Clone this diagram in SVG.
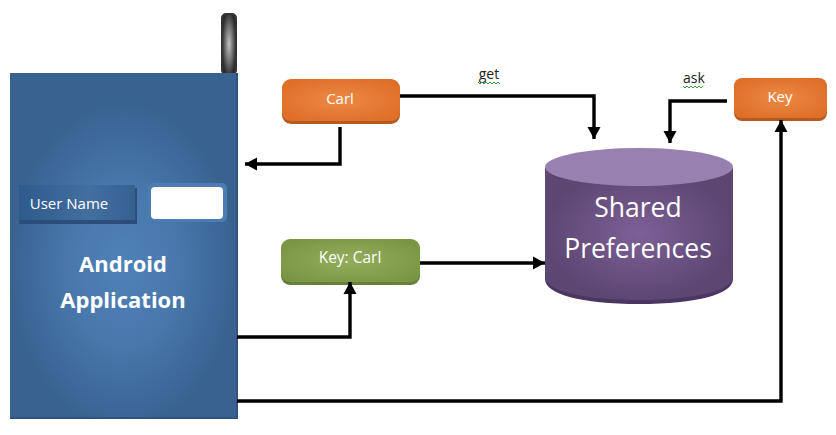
<svg xmlns="http://www.w3.org/2000/svg" width="836" height="435" viewBox="0 0 836 435">
<style>
text{font-family:"Open Sans","Noto Sans","Liberation Sans",sans-serif}
.w{fill:#fff;text-anchor:middle}
.k{fill:#222;text-anchor:middle;font-size:14px}
.c{fill:none;stroke:#000;stroke-width:3.4}
.sq{fill:none;stroke:#3a9a3a;stroke-width:1}
</style>
<defs>
<radialGradient id="blue" cx="0.5" cy="0.56" r="0.5" gradientTransform="translate(0.5 0.56) scale(1 0.95) translate(-0.5 -0.56)"><stop offset="0" stop-color="#4f81b8"/><stop offset="0.5" stop-color="#4877ab"/><stop offset="1" stop-color="#396290"/></radialGradient>
<radialGradient id="org" cx="0.5" cy="0.5" r="0.6"><stop offset="0" stop-color="#ec8a44"/><stop offset="1" stop-color="#de6e28"/></radialGradient>
<radialGradient id="grn" cx="0.5" cy="0.5" r="0.6"><stop offset="0" stop-color="#93ad5c"/><stop offset="1" stop-color="#7a9644"/></radialGradient>
<radialGradient id="pur" cx="0.5" cy="0.5" r="0.5"><stop offset="0" stop-color="#7e6098"/><stop offset="1" stop-color="#5c4672"/></radialGradient>
<radialGradient id="ant" cx="0.5" cy="0.5" r="0.5" gradientTransform="translate(0.5 0.5) scale(1 1.1) translate(-0.5 -0.5)"><stop offset="0" stop-color="#c0c0c0"/><stop offset="0.55" stop-color="#707070"/><stop offset="1" stop-color="#2c2c2c"/></radialGradient>
<linearGradient id="lbl" x1="0" x2="1" y1="0" y2="0"><stop offset="0" stop-color="#2f5a8c"/><stop offset="0.6" stop-color="#436f9f"/><stop offset="1" stop-color="#36608f"/></linearGradient>
<marker id="ah" markerUnits="userSpaceOnUse" markerWidth="14" markerHeight="14" refX="12" refY="7" orient="auto"><path d="M0 0.5L12 7L0 13.5z" fill="#000"/></marker>
</defs>
<rect width="836" height="435" fill="#fff"/>
<g id="antenna"><rect x="222" y="14" width="14" height="60" rx="4" fill="url(#ant)" stroke="#333" stroke-width="2"/></g>
<g id="android-application">
<rect x="10" y="73" width="228" height="346" fill="#2f5482"/>
<rect x="10" y="73" width="226" height="344" fill="url(#blue)"/>
<text class="w" x="123" y="272" font-size="22" font-weight="700">Android</text>
<text class="w" x="123" y="308" font-size="22" font-weight="700">Application</text>
</g>
<g id="user-name">
<rect x="19" y="188" width="118" height="36" fill="#2a4d7c"/>
<rect x="19" y="185" width="116" height="35" fill="url(#lbl)"/>
<text class="w" x="69" y="209" font-size="15">User Name</text>
</g>
<g id="input">
<rect x="148" y="183" width="79" height="39" rx="5" fill="#4c7cb2"/>
<rect x="151" y="187" width="72" height="32" rx="4" fill="#fff"/>
</g>
<g id="carl">
<rect x="282" y="81" width="118" height="43" rx="9" fill="#b45a20"/>
<rect x="282" y="79" width="118" height="42" rx="9" fill="url(#org)"/>
<text class="w" x="340" y="104" font-size="15">Carl</text>
</g>
<g id="key">
<rect x="734" y="80" width="93" height="41" rx="8" fill="#b45a20"/>
<rect x="734" y="78" width="93" height="40" rx="8" fill="url(#org)"/>
<text class="w" x="780" y="102" font-size="15">Key</text>
</g>
<g id="key-carl">
<rect x="281" y="241" width="139" height="44" rx="9" fill="#66803a"/>
<rect x="281" y="239" width="139" height="43" rx="9" fill="url(#grn)"/>
<text class="w" x="350" y="263" font-size="15.5">Key: Carl</text>
</g>
<g id="shared-preferences">
<path d="M545 168V279C545 294 581 304 639 304S733 294 733 279V168z" fill="#4a3660"/>
<path d="M545 168V277C545 290 581 300 639 300S733 290 733 277V168z" fill="url(#pur)"/>
<ellipse cx="639" cy="167" rx="94" ry="19" fill="#9880b0"/>
<text class="w" x="638" y="217" font-size="26.5">Shared</text>
<text class="w" x="638" y="258" font-size="26.5">Preferences</text>
</g>
<g id="connectors">
<path class="c" d="M340 127V164H245" marker-end="url(#ah)"/>
<path class="c" d="M400 96H594V139" marker-end="url(#ah)"/>
<path class="c" d="M727 101H670V143" marker-end="url(#ah)"/>
<path class="c" d="M420 263H545" marker-end="url(#ah)"/>
<path class="c" d="M237 337H350V282" marker-end="url(#ah)"/>
<path class="c" d="M237 401H781V120" marker-end="url(#ah)"/>
</g>
<g id="labels">
<text class="k" x="489" y="79">get</text>
<path class="sq" d="M478 82l2 2 2-2 2 2 2-2 2 2 2-2 2 2 2-2 2 2 2-2 2 2"/>
<text class="k" x="694" y="83">ask</text>
<path class="sq" d="M683 86l2 2 2-2 2 2 2-2 2 2 2-2 2 2 2-2 2 2 2-2"/>
</g>
</svg>
